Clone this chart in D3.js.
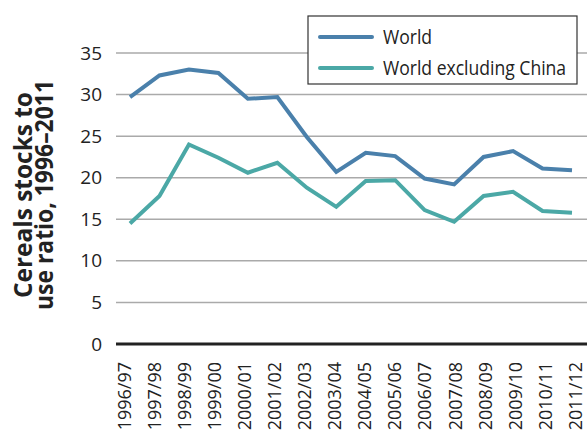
<!DOCTYPE html>
<html>
<head>
  <meta charset="utf-8">
  <title>Cereals stocks to use ratio</title>
  <script src="https://d3js.org/d3.v7.min.js"></script>
  <style>
    body { margin: 0; background: #fff; }
    text { font-family: "Open Sans", sans-serif; fill: #222; }
  </style>
</head>
<body>
<div id="chart"></div>
<script>
// Chart data
const seasons = ["1996/97", "1997/98", "1998/99", "1999/00", "2000/01", "2001/02",
  "2002/03", "2003/04", "2004/05", "2005/06", "2006/07", "2007/08",
  "2008/09", "2009/10", "2010/11", "2011/12"];
const world = [29.7, 32.3, 33.0, 32.6, 29.5, 29.7, 24.9, 20.7, 23.0, 22.6, 19.9, 19.2, 22.5, 23.2, 21.1, 20.9];
const worldExChina = [14.5, 17.8, 24.0, 22.4, 20.6, 21.8, 18.8, 16.5, 19.6, 19.7, 16.1, 14.7, 17.8, 18.3, 16.0, 15.8];
const yTicks = [0, 5, 10, 15, 20, 25, 30, 35];
const seriesNames = ["World", "World excluding China"];

const width = 587, height = 431;
const colors = ["#4a80ab", "#4ba8a6"];

const svg = d3.select("#chart")
  .append("svg")
  .attr("width", width)
  .attr("height", height);

// scales
const y = d3.scaleLinear().domain([0, 35]).range([344, 53]);
const x = d3.scalePoint().domain(seasons).range([130, 572]);
const xLabel = d3.scalePoint().domain(seasons).range([124, 575]);

// squeeze text horizontally to mimic a condensed face
function squeeze(sel, k) {
  sel.each(function() {
    const len = this.getComputedTextLength();
    d3.select(this).attr("textLength", len * k).attr("lengthAdjust", "spacingAndGlyphs");
  });
}

// gridlines
svg.append("g")
  .selectAll("line")
  .data(yTicks.filter(d => d > 0))
  .enter()
  .append("line")
  .attr("x1", 116)
  .attr("x2", width)
  .attr("y1", d => y(d))
  .attr("y2", d => y(d))
  .attr("stroke", "#aaa")
  .attr("stroke-width", 1.5);

// y axis labels
const yAxis = svg.append("g")
  .attr("transform", "translate(116,0)")
  .call(d3.axisLeft(y).tickValues(yTicks).tickSize(0).tickPadding(14));
yAxis.select(".domain").remove();
yAxis.selectAll("text")
  .style("font-size", "19px")
  .style("font-family", "Open Sans")
  .attr("fill", "#222");

// zero line
svg.append("line")
  .attr("x1", 116)
  .attr("x2", width)
  .attr("y1", y(0))
  .attr("y2", y(0))
  .attr("stroke", "#222")
  .attr("stroke-width", 3);

// x axis labels
const xAxis = svg.append("g")
  .attr("transform", "translate(0,362)")
  .call(d3.axisBottom(xLabel).tickSize(0).tickPadding(0));
xAxis.select(".domain").remove();
xAxis.selectAll("text")
  .style("font-size", "18px")
  .style("font-family", "Open Sans")
  .attr("fill", "#222")
  .style("text-anchor", "end")
  .attr("x", 0)
  .attr("y", 0)
  .attr("dy", "0.35em")
  .attr("transform", "rotate(-90)");

// lines
const line = d3.line()
  .x((d, i) => x(seasons[i]))
  .y(d => y(d));

[world, worldExChina].forEach((series, i) => {
  svg.append("path")
    .datum(series)
    .attr("d", line)
    .attr("fill", "none")
    .attr("stroke", colors[i])
    .attr("stroke-width", 4)
    .attr("stroke-linejoin", "miter");
});

// legend
const legend = svg.append("g");
legend.append("rect")
  .attr("x", 308)
  .attr("y", 16)
  .attr("width", 269)
  .attr("height", 68)
  .attr("fill", "#fff")
  .attr("stroke", "#333")
  .attr("stroke-width", 1.2);

seriesNames.forEach((name, i) => {
  const ly = 37 + i * 31;
  legend.append("line")
    .attr("x1", 320)
    .attr("x2", 372)
    .attr("y1", ly)
    .attr("y2", ly)
    .attr("stroke", colors[i])
    .attr("stroke-width", 4)
    .attr("stroke-linecap", "round");
  legend.append("text")
    .attr("x", 383)
    .attr("y", ly + 7)
    .style("font-size", "19.5px")
    .text(name)
    .call(squeeze, 0.9);
});

// y axis title
const title = svg.append("text")
  .attr("transform", "translate(0,195) rotate(-90)")
  .attr("text-anchor", "middle")
  .style("font-weight", "bold")
  .style("font-size", "25px");
title.append("tspan").attr("x", 0).attr("y", 32).text("Cereals stocks to");
title.append("tspan").attr("x", 0).attr("y", 53).text("use ratio, 1996\u20132011");
title.selectAll("tspan").each(function() {
  const target = this.textContent.startsWith("Cereals") ? 206 : 230;
  d3.select(this).attr("textLength", target).attr("lengthAdjust", "spacingAndGlyphs");
});
</script>
</body>
</html>
